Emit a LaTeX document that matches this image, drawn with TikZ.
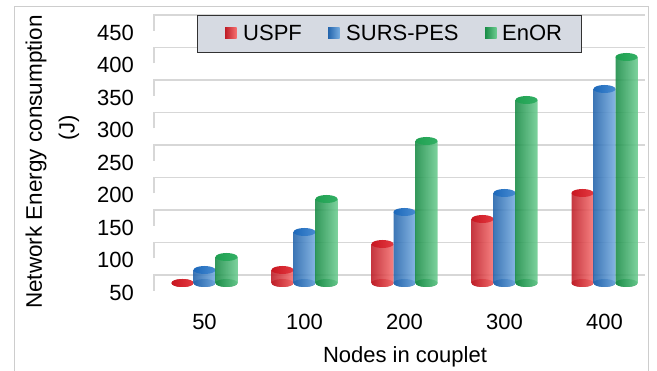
\documentclass[tikz,border=0pt]{standalone}
\usepackage{fontspec}
\setmainfont{Liberation Sans}
\definecolor{RD}{RGB}{190,28,38}
\definecolor{RM}{RGB}{228,58,66}
\definecolor{RL}{RGB}{246,112,112}
\definecolor{RT}{RGB}{200,22,32}
\definecolor{BD}{RGB}{35,100,172}
\definecolor{BM}{RGB}{72,140,210}
\definecolor{BL}{RGB}{118,172,224}
\definecolor{BT}{RGB}{28,104,186}
\definecolor{GD}{RGB}{25,140,70}
\definecolor{GM}{RGB}{52,176,102}
\definecolor{GL}{RGB}{108,204,145}
\definecolor{GT}{RGB}{30,160,80}
\definecolor{gridcol}{RGB}{215,215,215}
\definecolor{bordercol}{RGB}{205,205,205}
\definecolor{legfill}{RGB}{214,218,226}
\definecolor{legdraw}{RGB}{50,50,50}
\newcommand{\cylbar}[3]{%
  \pgfmathsetmacro{\cxm}{#1}%
  \pgfmathsetmacro{\cxa}{#1-11}%
  \pgfmathsetmacro{\cxb}{#1+11}%
  \fill[#3D, opacity=0.9] (\cxm,-283) ellipse[x radius=11, y radius=4];
  \shade[left color=#3D, middle color=#3M, right color=#3L, opacity=0.88]
    (\cxa,-#2) -- (\cxa,-283) arc[start angle=180, end angle=360, x radius=11, y radius=4]
    -- (\cxb,-#2) -- cycle;
  \shade[left color=#3T, right color=#3M] (\cxm,-#2) ellipse[x radius=11, y radius=4];
}
\begin{document}
\begin{tikzpicture}[x=1pt, y=1pt,
  lbl/.style={inner sep=0pt, font=\fontsize{22}{26}\selectfont},
  gridline/.style={draw=gridcol, line width=1.6},
  keybox/.style={draw=legdraw, fill=legfill, line width=1.3, inner sep=0pt}]
\useasboundingbox (0,-371) rectangle (657,0);
\fill[white] (0,-371) rectangle (657,0);
\draw[bordercol, line width=1] (14,-380) -- (14,-7) -- (648,-7) -- (648,-380);
% grid and ticks
\foreach \v [count=\i from 0] in {450,400,350,300,250,200,150,100,50} {
  \pgfmathsetmacro{\yg}{15+32.5*\i}
  \draw[gridline] (154,{-\yg-16}) -- (154,{-\yg}) -- (645,{-\yg});
  \node[lbl, anchor=east] (t\v) at (134,{-\yg-17.5}) {\v};
}
% bars
\foreach \i/\a/\b/\c in {0/283/270/257, 1/270/232/199, 2/244/212/141, 3/219/193/100, 4/193/89/57} {
  \pgfmathsetmacro{\g}{204.5+100*\i}
  \cylbar{\g-22}{\a}{R}
  \cylbar{\g}{\b}{B}
  \cylbar{\g+22}{\c}{G}
}
% category labels
\foreach \c [count=\i from 0] in {50,100,200,300,400} {
  \node[lbl] (c\c) at ({204.5+100*\i},-322) {\c};
}
\node[lbl, anchor=base] (xtitle) at (405,-363) {Nodes in couplet};
\node[lbl, rotate=90, font=\fontsize{22.5}{26}\selectfont] (ytitle) at (36,-162) {Network Energy consumption};
\node[lbl, rotate=90] (yunit) at (69,-128) {(J)};
% legend
\node[keybox, minimum width=384, minimum height=37, anchor=north west] (legend) at (197,-15) {};
\shade[left color=RD, right color=RL] (225,-27.5) rectangle (236.5,-39);
\node[lbl, anchor=base west] (l1) at (243,-41) {USPF};
\shade[left color=BD, right color=BL] (328,-27.5) rectangle (339.5,-39);
\node[lbl, anchor=base west] (l2) at (346,-41) {SURS-PES};
\shade[left color=GD, right color=GL] (485,-27.5) rectangle (496.5,-39);
\node[lbl, anchor=base west] (l3) at (502,-41) {EnOR};
\end{tikzpicture}
\end{document}
